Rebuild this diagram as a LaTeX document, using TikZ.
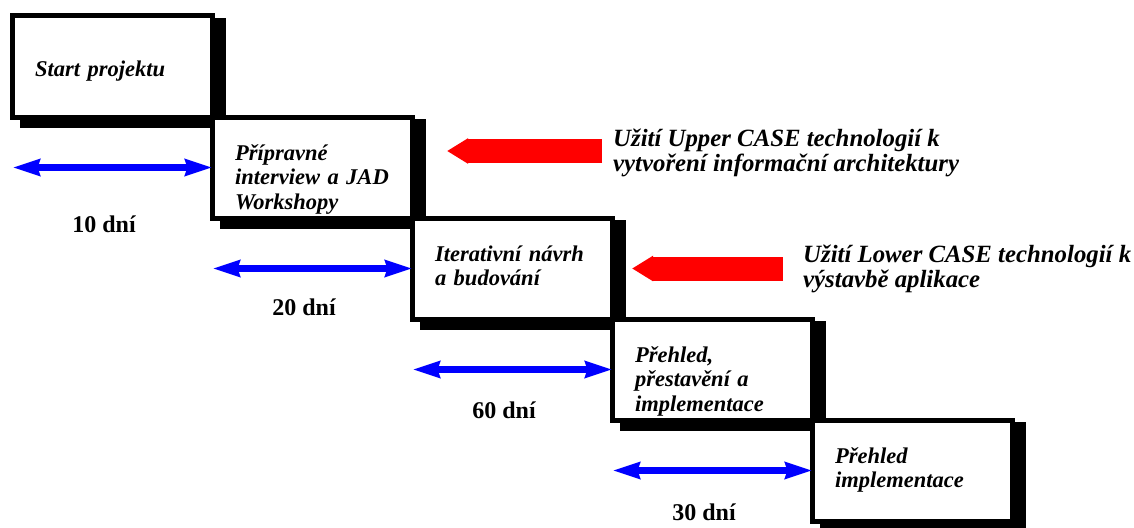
\documentclass[tikz,border=0pt]{standalone}
\usepackage{fontspec}
\setmainfont{Liberation Serif}
\usetikzlibrary{arrows.meta,positioning}
\definecolor{pureblue}{HTML}{0000FF}
\definecolor{purered}{HTML}{FF0000}
\pgfdeclarelayer{background}
\pgfsetlayers{background,main}

\begin{document}
\begin{tikzpicture}[
  x=1pt, y=-1pt,
  node distance=0pt and 0pt,
  phasebox/.style={
    draw=black,
    line width=5pt,
    fill=white,
    inner sep=0pt,
    outer sep=0pt,
    minimum width=200pt,
    minimum height=101pt,
    text width=155pt,
    text height=43pt,
    text depth=58pt,
    align=left,
    font=\fontsize{22.5}{24.5}\selectfont\bfseries\itshape
  },
  notetext/.style={
    inner sep=0pt,
    anchor=west,
    align=left,
    font=\fontsize{24.8}{25}\selectfont\bfseries\itshape
  },
  daylabel/.style={
    inner sep=0pt,
    xshift=-8.5pt,
    font=\fontsize{24}{28}\selectfont\bfseries
  },
  dayspan/.style={{Stealth[length=27pt,width=16pt,inset=2pt]}-{Stealth[length=27pt,width=16pt,inset=2pt]},line width=7pt,draw=pureblue},
  casearrow/.style={-{Triangle[length=21pt,width=24pt]},line width=24pt,draw=purered}
]
\useasboundingbox (0,0) rectangle (1134,527);

\node[phasebox,text height=61pt,text depth=40pt] (start) at (112.5,66.5) {Start projektu};
\node[phasebox,below right=of start] (prep) {Přípravné\\interview a JAD\\Workshopy};
\node[phasebox,below right=of prep] (iter) {Iterativní návrh\\a budování};
\node[phasebox,below right=of iter] (review) {Přehled,\\přestavění a\\implementace};
\node[phasebox,below right=of review] (impl) {Přehled\\implementace};

% shadows behind the steps
\begin{pgfonlayer}{background}
  \foreach \b in {start,prep,iter,review,impl}
    \fill ([shift={(7.5pt,-11pt)}]\b.south west) rectangle ([shift={(13.5pt,-2pt)}]\b.north east);
\end{pgfonlayer}

\draw[dayspan] (start.west |- prep.west) -- node[daylabel,below=45pt] {10 dní} (prep.west);
\draw[dayspan] (prep.west |- iter.west) -- node[daylabel,below=27pt] {20 dní} (iter.west);
\draw[dayspan] (iter.west |- review.west) -- node[daylabel,below=29pt] {60 dní} (review.west);
\draw[dayspan] (review.west |- impl.west) -- node[daylabel,below=30pt] {30 dní} (impl.west);

\node[notetext] (upper) at (613,153) {Užití Upper CASE technologií k\\vytvoření informační architektury};
\node[notetext] (lower) at (803,268.5) {Užití Lower CASE technologií k\\výstavbě aplikace};

\draw[casearrow] ([xshift=-11pt,yshift=2pt]upper.west) -- ([xshift=34.5pt,yshift=2pt]prep.east |- upper.west);
\draw[casearrow] ([xshift=-20pt]lower.west) -- ([xshift=19.5pt]iter.east |- lower.west);
\end{tikzpicture}
\end{document}
